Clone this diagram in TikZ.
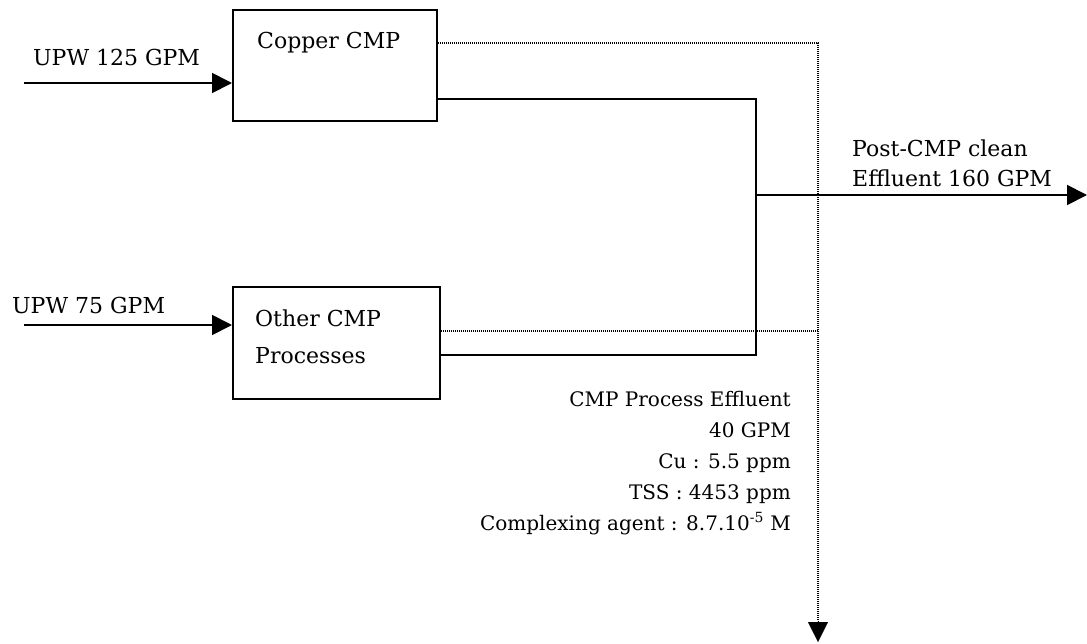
\documentclass[tikz,border=0pt]{standalone}
\usepackage{fontspec}
\setmainfont{DejaVu Serif}
\usetikzlibrary{arrows.meta,calc}
\begin{document}
\begin{tikzpicture}[x=1pt,y=-1pt,
  procbox/.style={draw,line width=2pt,inner sep=0pt},
  flow/.style={line width=1.8pt},
  sample/.style={line width=1.1pt,dash pattern=on 0.9pt off 1.1pt},
  tip/.style={-{Triangle[length=20pt,width=20pt]}},
  txt/.style={font=\fontsize{22}{26}\selectfont,inner sep=0pt},
  datatxt/.style={font=\fontsize{20}{24}\selectfont,inner sep=0pt}]
\useasboundingbox (0,0) rectangle (1087,643);
% process units
\node[procbox,minimum width=204pt,minimum height=111pt] (cu) at (335,65.5) {};
\node[procbox,minimum width=207pt,minimum height=112pt] (ot) at (336.5,343) {};
\node[txt,anchor=west] (cut) at (257,43) {Copper CMP};
\node[txt,anchor=west] (ott1) at (255,318) {Other CMP};
\node[txt,anchor=west] (ott2) at (255,356) {Processes};
% feeds
\coordinate (in1) at (24,83);
\coordinate (in2) at (24,325);
\draw[flow,tip] (in1) -- (cu.west |- in1);
\draw[flow,tip] (in2) -- (ot.west |- in2);
\node[txt,anchor=west] (l1) at (33,57) {UPW 125 GPM};
\node[txt,anchor=west] (l2) at (12,305) {UPW 75 GPM};
% clean effluent collector
\coordinate (j1) at (756,99);
\coordinate (j2) at (756,355);
\coordinate (jo) at (756,195);
\coordinate (out) at (1087,195);
\draw[flow] (cu.east |- j1) -- (j1) -- (j2) -- (ot.east |- j2);
\draw[flow,tip] (jo) -- (out);
\node[txt,anchor=west] (o1) at (852,148) {Post-CMP clean};
\node[txt,anchor=west] (o2) at (852,178) {Effluent 160 GPM};
% process effluent collector
\coordinate (d1) at (818,43);
\coordinate (d2) at (818,331);
\coordinate (dout) at (818,642);
\coordinate (dtip) at (818,621);
\draw[sample] (cu.east |- d1) -- (d1) -- (d2);
\draw[sample] (ot.east |- d2) -- (d2);
\draw[sample] (d2) -- (dtip);
\draw[line width=0.1pt,tip] (dtip) -- (dout);
\node[datatxt,anchor=east,align=right] (eff) at (791,463) {CMP Process Effluent\\[7pt]40 GPM\\[7pt]Cu : 5.5 ppm\\[7pt]TSS : 4453 ppm\\[7pt]Complexing agent : 8.7.10\textsuperscript{-5} M};
\end{tikzpicture}
\end{document}
